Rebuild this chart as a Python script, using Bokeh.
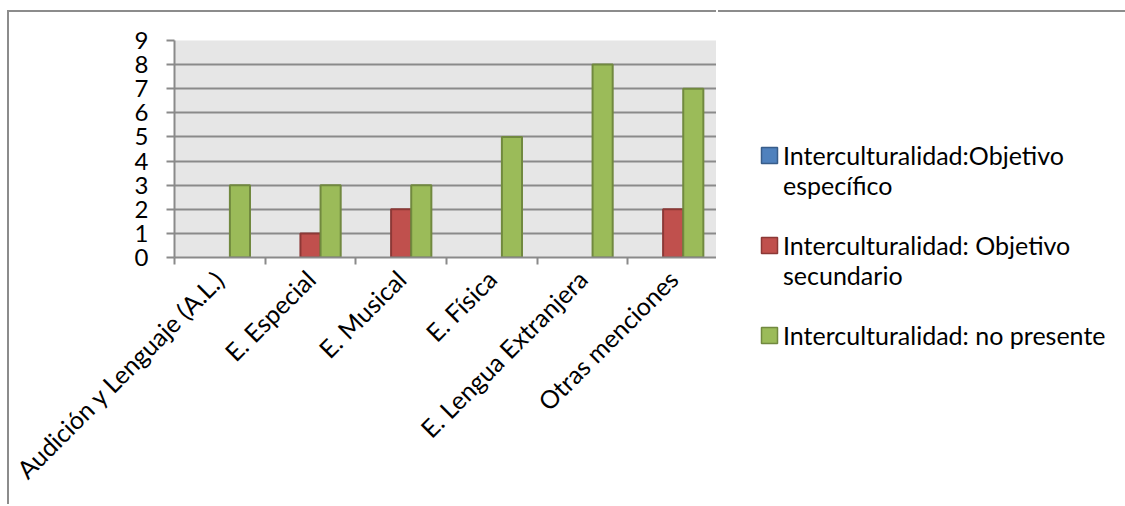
import math

import numpy as np
from bokeh.embed import file_html
from bokeh.models import ColumnDataSource, FixedTicker, Legend, LegendItem, Range1d
from bokeh.plotting import figure
from bokeh.resources import INLINE

# Mentions (categories) and the three series of counts
categories = [
    "Audición y Lenguaje (A.L.)",
    "E. Especial",
    "E. Musical",
    "E. Física",
    "E. Lengua Extranjera",
    "Otras menciones",
]
objetivo_especifico = [0, 0, 0, 0, 0, 0]
objetivo_secundario = [0, 1, 2, 0, 0, 2]
no_presente = [3, 3, 3, 5, 8, 7]
y_ticks = list(range(0, 10))

# legend text, one list of lines per series
series_labels = [
    ["Interculturalidad:Objetivo", "específico"],
    ["Interculturalidad: Objetivo", "secundario"],
    ["Interculturalidad: no presente"],
]
fills = ["#4f81bd", "#c0504d", "#9bbb59"]
outlines = ["#385d8a", "#8c3836", "#71893f"]

FONT = "Lato"
FONT_SIZE = "25px"
BAR_W = 0.222  # one bar per series, gap width 150%
FRAME_LINE = "2px solid #8c8c8c"

centers = [i + 0.5 for i in range(len(categories))]

# ---- chart -----------------------------------------------------------------
p = figure(
    width=709,
    height=494,
    x_range=Range1d(0, len(categories)),
    y_range=Range1d(0, 9),
    output_backend="svg",
    toolbar_location=None,
    min_border_left=165,
    min_border_right=0,
    min_border_top=28,
    min_border_bottom=249,
)
p.margin = (10, 0, 0, 7)
p.styles = {"border-top": FRAME_LINE, "border-left": FRAME_LINE}
p.background_fill_color = "#e6e6e6"
p.border_fill_color = "white"
p.outline_line_color = None

for k, values in enumerate([objetivo_especifico, objetivo_secundario, no_presente]):
    src = ColumnDataSource(dict(
        x=[c + (k - 1) * BAR_W for c in centers],
        top=values,
        edge=[1.0 if v > 0 else 0.0 for v in values],  # no outline on empty bars
    ))
    p.vbar(x="x", top="top", width=BAR_W, source=src,
           fill_color=fills[k], line_color=outlines[k], line_width=2,
           line_alpha="edge")

p.xgrid.grid_line_color = None
p.ygrid.grid_line_color = "#8a8a8a"
p.ygrid.grid_line_width = 2

# x axis: labels at category centres, small ticks at category boundaries
xa = p.xaxis[0]
xa.ticker = FixedTicker(ticks=centers, minor_ticks=list(range(len(categories) + 1)))
xa.major_label_overrides = {c: name for c, name in zip(centers, categories)}
xa.major_label_orientation = math.pi / 4
xa.major_tick_out = 0
xa.major_tick_in = 0
xa.minor_tick_out = 7
xa.minor_tick_in = 0
xa.minor_tick_line_color = "#8a8a8a"
xa.minor_tick_line_width = 2
xa.axis_line_color = "#8a8a8a"
xa.axis_line_width = 2
xa.major_label_text_font = FONT
xa.major_label_text_font_size = FONT_SIZE
xa.major_label_text_color = "black"
xa.major_label_standoff = 10

ya = p.yaxis[0]
ya.ticker = FixedTicker(ticks=y_ticks)
ya.minor_tick_line_color = None
ya.major_tick_out = 8
ya.major_tick_in = 0
ya.major_tick_line_color = "#8a8a8a"
ya.major_tick_line_width = 2
ya.axis_line_color = "#8a8a8a"
ya.axis_line_width = 2
ya.major_label_text_font = FONT
ya.major_label_text_font_size = "24px"
ya.major_label_text_color = "black"
ya.major_label_standoff = 18

# ---- legend panel, placed to the right of the chart ------------------------------
lg = figure(
    width=407,
    height=494,
    x_range=Range1d(0, 1),
    y_range=Range1d(0, 1),
    output_backend="svg",
    toolbar_location=None,
    x_axis_location=None,
    y_axis_location=None,
    min_border=0,
)
lg.styles = {"position": "absolute", "left": "718px", "top": "10px", "border-top": FRAME_LINE}
lg.outline_line_color = None
lg.grid.grid_line_color = None
lg.background_fill_color = "white"
lg.border_fill_color = "white"


def key_source():
    # one row with no drawable extent: only the legend key is shown
    nan = np.array([np.nan])
    return ColumnDataSource(dict(left=nan, right=nan, top=nan, bottom=nan))


items = []
for k, lines in enumerate(series_labels):
    if k > 0:
        gap = lg.quad(source=key_source(), fill_alpha=0, line_alpha=0)
        items.append(LegendItem(label=" ", renderers=[gap]))
    key = lg.quad(source=key_source(), fill_color=fills[k],
                  line_color=outlines[k], line_width=1.5)
    items.append(LegendItem(label=lines[0], renderers=[key]))
    for extra in lines[1:]:
        blank = lg.quad(source=key_source(), fill_alpha=0, line_alpha=0)
        items.append(LegendItem(label=extra, renderers=[blank]))

legend = Legend(
    items=items,
    location=(41, 156),
    border_line_color=None,
    background_fill_alpha=0,
    margin=0,
    padding=0,
    spacing=0,
    glyph_width=20,
    glyph_height=20,
    label_height=30,
    label_standoff=4,
    label_text_font=FONT,
    label_text_font_size=FONT_SIZE,
    label_text_color="black",
)
lg.add_layout(legend, "center")

open("out.html", "w").write(file_html([p, lg], INLINE))
